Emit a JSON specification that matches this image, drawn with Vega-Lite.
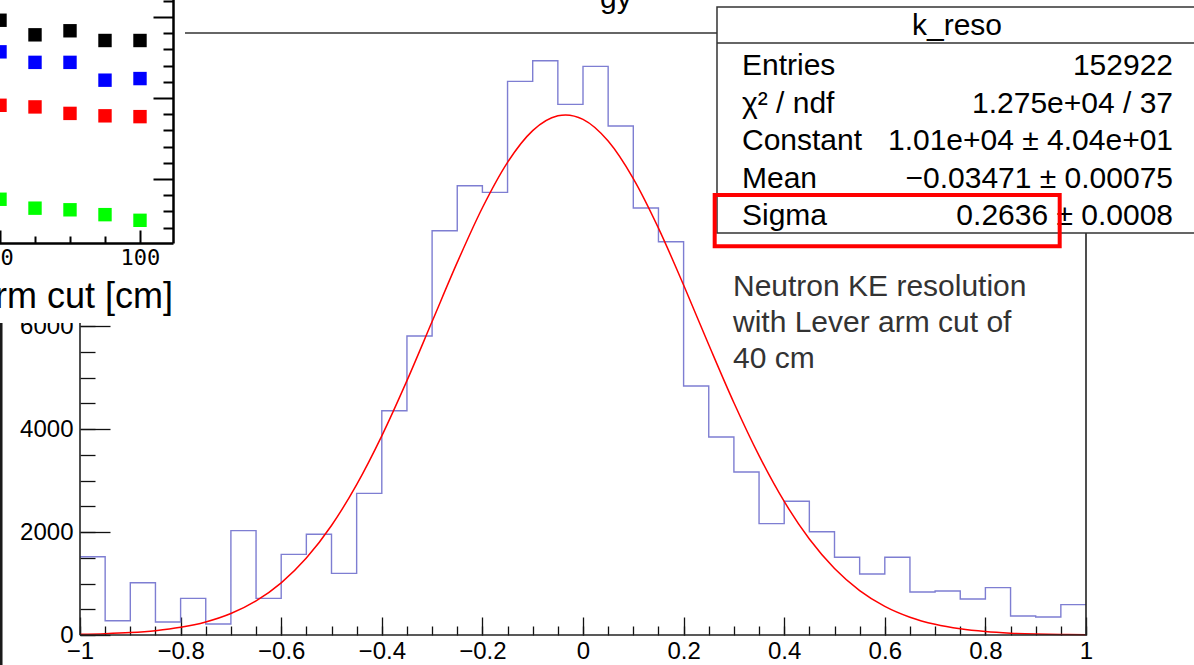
{
  "$schema": "https://vega.github.io/schema/vega-lite/v6.json",
  "width": 1006,
  "height": 602,
  "autosize": "none",
  "padding": {"left": 80, "top": 33, "right": 108, "bottom": 30},
  "background": "white",
  "config": {
    "view": {"stroke": null},
    "axis": {"grid": false, "title": null, "labelFlush": false, "labelOverlap": false, "tickColor": "#111111", "domainColor": "#111111", "labelColor": "#000000"}
  },
  "datasets": {
    "hist": [
      {"x": -1.0, "n": 1520}, {"x": -0.95, "n": 278}, {"x": -0.9, "n": 1016}, {"x": -0.85, "n": 252},
      {"x": -0.8, "n": 712}, {"x": -0.75, "n": 214}, {"x": -0.7, "n": 2026}, {"x": -0.65, "n": 712},
      {"x": -0.6, "n": 1566}, {"x": -0.55, "n": 1955}, {"x": -0.5, "n": 1197}, {"x": -0.45, "n": 2751},
      {"x": -0.4, "n": 4356}, {"x": -0.35, "n": 5806}, {"x": -0.3, "n": 7851}, {"x": -0.25, "n": 8725},
      {"x": -0.2, "n": 8596}, {"x": -0.15, "n": 10751}, {"x": -0.1, "n": 11152}, {"x": -0.05, "n": 10304},
      {"x": 0.0, "n": 11042}, {"x": 0.05, "n": 9883}, {"x": 0.1, "n": 8291}, {"x": 0.15, "n": 7637},
      {"x": 0.2, "n": 4835}, {"x": 0.25, "n": 3845}, {"x": 0.3, "n": 3165}, {"x": 0.35, "n": 2162},
      {"x": 0.4, "n": 2596}, {"x": 0.45, "n": 2006}, {"x": 0.5, "n": 1509}, {"x": 0.55, "n": 1185},
      {"x": 0.6, "n": 1509}, {"x": 0.65, "n": 835}, {"x": 0.7, "n": 855}, {"x": 0.75, "n": 699},
      {"x": 0.8, "n": 919}, {"x": 0.85, "n": 369}, {"x": 0.9, "n": 350}, {"x": 0.95, "n": 589},
      {"x": 1.0, "n": 589}
    ],
    "fit": [
      {"x": -1.0, "f": 12.4}, {"x": -0.95, "f": 24.3}, {"x": -0.9, "f": 46.2}, {"x": -0.85, "f": 84.6},
      {"x": -0.8, "f": 149.4}, {"x": -0.75, "f": 254.3}, {"x": -0.7, "f": 417.8}, {"x": -0.65, "f": 662.5},
      {"x": -0.6, "f": 1013}, {"x": -0.55, "f": 1494}, {"x": -0.5, "f": 2127}, {"x": -0.45, "f": 2920},
      {"x": -0.4, "f": 3867}, {"x": -0.35, "f": 4939}, {"x": -0.3, "f": 6087}, {"x": -0.25, "f": 7235},
      {"x": -0.2, "f": 8297}, {"x": -0.15, "f": 9179}, {"x": -0.1, "f": 9795}, {"x": -0.05, "f": 10083},
      {"x": -0.0347, "f": 10100},
      {"x": 0.0, "f": 10013}, {"x": 0.05, "f": 9592}, {"x": 0.1, "f": 8863}, {"x": 0.15, "f": 7901},
      {"x": 0.2, "f": 6795}, {"x": 0.25, "f": 5636}, {"x": 0.3, "f": 4510}, {"x": 0.35, "f": 3482},
      {"x": 0.4, "f": 2593}, {"x": 0.45, "f": 1863}, {"x": 0.5, "f": 1291}, {"x": 0.55, "f": 862.6},
      {"x": 0.6, "f": 556.2}, {"x": 0.65, "f": 346.0}, {"x": 0.7, "f": 207.7}, {"x": 0.75, "f": 120.2},
      {"x": 0.8, "f": 67.1}, {"x": 0.85, "f": 36.2}, {"x": 0.9, "f": 18.8}, {"x": 0.95, "f": 9.4},
      {"x": 1.0, "f": 4.6}
    ],
    "inset": [
      {"cut": 20, "series": "black", "v": 0.496}, {"cut": 40, "series": "black", "v": 0.478},
      {"cut": 60, "series": "black", "v": 0.483}, {"cut": 80, "series": "black", "v": 0.471},
      {"cut": 100, "series": "black", "v": 0.471},
      {"cut": 20, "series": "blue", "v": 0.457}, {"cut": 40, "series": "blue", "v": 0.444},
      {"cut": 60, "series": "blue", "v": 0.444}, {"cut": 80, "series": "blue", "v": 0.422},
      {"cut": 100, "series": "blue", "v": 0.424},
      {"cut": 20, "series": "red", "v": 0.391}, {"cut": 40, "series": "red", "v": 0.389},
      {"cut": 60, "series": "red", "v": 0.381}, {"cut": 80, "series": "red", "v": 0.378},
      {"cut": 100, "series": "red", "v": 0.377},
      {"cut": 20, "series": "green", "v": 0.275}, {"cut": 40, "series": "green", "v": 0.264},
      {"cut": 60, "series": "green", "v": 0.262}, {"cut": 80, "series": "green", "v": 0.256},
      {"cut": 100, "series": "green", "v": 0.249}
    ]
  },
  "layer": [
    {
      "layer": [
        {
          "data": {"name": "hist"},
          "mark": {"type": "line", "interpolate": "step-after", "color": "#7e7ed2", "strokeWidth": 1.4},
          "encoding": {
            "x": {"field": "x", "type": "quantitative", "scale": {"domain": [-1, 1], "nice": false, "zero": false},
                  "axis": {"orient": "bottom", "values": [-1, -0.8, -0.6, -0.4, -0.2, 0, 0.2, 0.4, 0.6, 0.8, 1], "format": "~g", "ticks": false, "domain": false, "labelFont": "Liberation Sans", "labelFontSize": 24, "labelPadding": 4}},
            "y": {"field": "n", "type": "quantitative", "scale": {"domain": [0, 11690], "nice": false, "zero": false},
                  "axis": {"orient": "left", "values": [0, 2000, 4000, 6000], "format": "d", "ticks": false, "domain": false, "labelFont": "Liberation Sans", "labelFontSize": 24, "labelPadding": 7}}
          }
        },
        {
          "data": {"name": "fit"},
          "mark": {"type": "line", "interpolate": "monotone", "color": "#ff0000", "strokeWidth": 1.5},
          "encoding": {
            "x": {"field": "x", "type": "quantitative", "scale": {"domain": [-1, 1], "nice": false, "zero": false},
                  "axis": {"orient": "bottom", "values": [-1, -0.8, -0.6, -0.4, -0.2, 0, 0.2, 0.4, 0.6, 0.8, 1], "labels": false, "domain": false, "tickSize": -18, "tickWidth": 1.3}},
            "y": {"field": "f", "type": "quantitative", "scale": {"domain": [0, 11690], "nice": false, "zero": false},
                  "axis": {"orient": "left", "values": [0, 2000, 4000, 6000], "labels": false, "domain": false, "tickSize": -30, "tickWidth": 1.3}}
          }
        },
        {
          "data": {"values": [{}]},
          "mark": {"type": "rule", "color": "#222222", "strokeWidth": 1.6},
          "encoding": {
            "x": {"datum": -1, "type": "quantitative", "scale": {"domain": [-1, 1], "nice": false, "zero": false},
                  "axis": {"orient": "bottom", "values": [-1, -0.95, -0.9, -0.85, -0.8, -0.75, -0.7, -0.65, -0.6, -0.55, -0.5, -0.45, -0.4, -0.35, -0.3, -0.25, -0.2, -0.15, -0.1, -0.05, 0, 0.05, 0.1, 0.15, 0.2, 0.25, 0.3, 0.35, 0.4, 0.45, 0.5, 0.55, 0.6, 0.65, 0.7, 0.75, 0.8, 0.85, 0.9, 0.95, 1], "labels": false, "domain": false, "tickSize": -9, "tickWidth": 1.3}},
            "x2": {"datum": 1},
            "y": {"datum": 0, "type": "quantitative", "scale": {"domain": [0, 11690], "nice": false, "zero": false},
                  "axis": {"orient": "left", "values": [0, 500, 1000, 1500, 2000, 2500, 3000, 3500, 4000, 4500, 5000, 5500, 6000], "labels": false, "domain": false, "tickSize": -15, "tickWidth": 1.3}}
          }
        },
        {
          "data": {"values": [{}]},
          "mark": {"type": "rule", "color": "#222222", "strokeWidth": 1.6},
          "encoding": {
            "x": {"datum": -1, "type": "quantitative", "scale": {"domain": [-1, 1], "nice": false, "zero": false}, "axis": null},
            "y": {"datum": 0, "type": "quantitative", "scale": {"domain": [0, 11690], "nice": false, "zero": false}, "axis": null},
            "y2": {"datum": 6059}
          }
        },
        {
          "data": {"values": [{}]},
          "mark": {"type": "rule", "color": "#222222", "strokeWidth": 1.6},
          "encoding": {
            "x": {"datum": 1, "type": "quantitative", "scale": {"domain": [-1, 1], "nice": false, "zero": false}, "axis": null},
            "y": {"datum": 0, "type": "quantitative", "scale": {"domain": [0, 11690], "nice": false, "zero": false}, "axis": null},
            "y2": {"datum": 7806}
          }
        },
        {
          "data": {"values": [{}]},
          "mark": {"type": "rule", "color": "#333333", "strokeWidth": 1.6},
          "encoding": {
            "x": {"datum": -0.7913, "type": "quantitative", "scale": {"domain": [-1, 1], "nice": false, "zero": false}, "axis": null},
            "x2": {"datum": 0.2664},
            "y": {"datum": 11690, "type": "quantitative", "scale": {"domain": [0, 11690], "nice": false, "zero": false}, "axis": null}
          }
        },
        {
          "data": {"values": [{}]},
          "mark": {"type": "rect", "fill": "white", "stroke": null},
          "encoding": {
            "x": {"datum": -1.16, "type": "quantitative", "scale": {"domain": [-1, 1], "nice": false, "zero": false}, "axis": null},
            "x2": {"datum": -1.004},
            "y": {"datum": 6059, "type": "quantitative", "scale": {"domain": [0, 11690], "nice": false, "zero": false}, "axis": null},
            "y2": {"datum": 6800}
          }
        },
        {
          "data": {"values": [{}]},
          "mark": {"type": "rect", "fill": "white", "stroke": "#333333", "strokeWidth": 1.5},
          "encoding": {
            "x": {"datum": 0.2664, "type": "quantitative", "scale": {"domain": [-1, 1], "nice": false, "zero": false}, "axis": null},
            "x2": {"datum": 1.3},
            "y": {"datum": 12195, "type": "quantitative", "scale": {"domain": [0, 11690], "nice": false, "zero": false}, "axis": null},
            "y2": {"datum": 7806}
          }
        },
        {
          "data": {"values": [{}]},
          "mark": {"type": "rule", "color": "#333333", "strokeWidth": 1.5},
          "encoding": {
            "x": {"datum": 0.2664, "type": "quantitative", "scale": {"domain": [-1, 1], "nice": false, "zero": false}, "axis": null},
            "x2": {"datum": 1.3},
            "y": {"datum": 11496, "type": "quantitative", "scale": {"domain": [0, 11690], "nice": false, "zero": false}, "axis": null}
          }
        },
        {
          "data": {"values": [{}]},
          "mark": {"type": "text", "text": "k_reso", "align": "center", "baseline": "alphabetic", "font": "Liberation Sans", "fontSize": 30, "color": "#000000"},
          "encoding": {
            "x": {"datum": 0.7435, "type": "quantitative", "scale": {"domain": [-1, 1], "nice": false, "zero": false}, "axis": null},
            "y": {"datum": 11651, "type": "quantitative", "scale": {"domain": [0, 11690], "nice": false, "zero": false}, "axis": null}
          }
        },
        {
          "data": {"values": [{}]},
          "mark": {"type": "text", "text": ["Entries", "χ² / ndf", "Constant", "Mean", "Sigma"], "align": "left", "baseline": "alphabetic", "font": "Liberation Sans", "fontSize": 30, "lineHeight": 37.6, "color": "#000000"},
          "encoding": {
            "x": {"datum": 0.3161, "type": "quantitative", "scale": {"domain": [-1, 1], "nice": false, "zero": false}, "axis": null},
            "y": {"datum": 10874, "type": "quantitative", "scale": {"domain": [0, 11690], "nice": false, "zero": false}, "axis": null}
          }
        },
        {
          "data": {"values": [{}]},
          "mark": {"type": "text", "text": ["152922", "1.275e+04 / 37", "1.01e+04 ± 4.04e+01", "−0.03471 ± 0.00075", "0.2636 ± 0.0008"], "align": "right", "baseline": "alphabetic", "font": "Liberation Sans", "fontSize": 30, "lineHeight": 37.6, "color": "#000000"},
          "encoding": {
            "x": {"datum": 1.173, "type": "quantitative", "scale": {"domain": [-1, 1], "nice": false, "zero": false}, "axis": null},
            "y": {"datum": 10874, "type": "quantitative", "scale": {"domain": [0, 11690], "nice": false, "zero": false}, "axis": null}
          }
        },
        {
          "data": {"values": [{}]},
          "mark": {"type": "rect", "filled": false, "stroke": "#ff0000", "strokeWidth": 4},
          "encoding": {
            "x": {"datum": 0.2618, "type": "quantitative", "scale": {"domain": [-1, 1], "nice": false, "zero": false}, "axis": null},
            "x2": {"datum": 0.9477},
            "y": {"datum": 8544, "type": "quantitative", "scale": {"domain": [0, 11690], "nice": false, "zero": false}, "axis": null},
            "y2": {"datum": 7548}
          }
        },
        {
          "data": {"values": [{}]},
          "mark": {"type": "text", "text": ["Neutron KE resolution", "with Lever arm cut of", "40 cm"], "align": "left", "baseline": "alphabetic", "font": "Liberation Sans", "fontSize": 30, "lineHeight": 36, "color": "#333333"},
          "encoding": {
            "x": {"datum": 0.2982, "type": "quantitative", "scale": {"domain": [-1, 1], "nice": false, "zero": false}, "axis": null},
            "y": {"datum": 6583, "type": "quantitative", "scale": {"domain": [0, 11690], "nice": false, "zero": false}, "axis": null}
          }
        },
        {
          "data": {"values": [{}]},
          "mark": {"type": "text", "text": "gy", "align": "left", "baseline": "alphabetic", "font": "Liberation Sans", "fontSize": 30, "color": "#000000"},
          "encoding": {
            "x": {"datum": 0.0338, "type": "quantitative", "scale": {"domain": [-1, 1], "nice": false, "zero": false}, "axis": null},
            "y": {"datum": 12175, "type": "quantitative", "scale": {"domain": [0, 11690], "nice": false, "zero": false}, "axis": null}
          }
        }
      ],
      "resolve": {"axis": {"x": "independent", "y": "independent"}}
    },
    {
      "layer": [
        {
          "data": {"name": "inset"},
          "mark": {"type": "point", "shape": "square", "filled": true, "size": 180, "opacity": 1},
          "encoding": {
            "x": {"field": "cut", "type": "quantitative", "scale": {"domain": [0, 118.86], "range": [-115, 93], "nice": false, "zero": false},
                  "axis": {"orient": "bottom", "offset": -392, "zindex": 1, "values": [20, 100], "labels": false, "domain": true, "domainWidth": 2.5, "domainColor": "#000000", "tickSize": -13, "tickWidth": 2, "tickColor": "#000000"}},
            "y": {"field": "v", "type": "quantitative", "scale": {"domain": [0.221, 0.55], "range": [210, -56.5], "nice": false, "zero": false},
                  "axis": {"orient": "left", "offset": -93, "zindex": 1, "values": [0.3, 0.4, 0.5], "labels": false, "domain": true, "domainWidth": 2.5, "domainColor": "#000000", "tickSize": 20, "tickWidth": 2, "tickColor": "#000000"}},
            "color": {"field": "series", "type": "nominal", "scale": {"domain": ["black", "blue", "red", "green"], "range": ["#000000", "#0000ff", "#ff0000", "#00ff00"]}, "legend": null}
          }
        },
        {
          "data": {"values": [{}]},
          "mark": {"type": "text", "text": "Lever arm cut [cm]", "align": "right", "baseline": "alphabetic", "font": "Liberation Sans", "fontSize": 36, "color": "#000000"},
          "encoding": {
            "x": {"datum": 118.86, "type": "quantitative", "scale": {"domain": [0, 118.86], "range": [-115, 93], "nice": false, "zero": false},
                  "axis": {"orient": "bottom", "offset": -392, "zindex": 1, "values": [20, 100], "ticks": false, "domain": false, "labelFont": "DejaVu Sans Mono", "labelFontSize": 22, "labelPadding": 4}},
            "y": {"datum": 0.1407, "type": "quantitative", "scale": {"domain": [0.221, 0.55], "range": [210, -56.5], "nice": false, "zero": false},
                  "axis": {"orient": "left", "offset": -93, "zindex": 1, "values": [0.24, 0.26, 0.28, 0.32, 0.34, 0.36, 0.38, 0.42, 0.44, 0.46, 0.48, 0.52], "labels": false, "domain": false, "tickSize": 10, "tickWidth": 2, "tickColor": "#000000"}}
          }
        },
        {
          "data": {"values": [{}]},
          "mark": {"type": "rule", "color": "#1a1a1a", "strokeWidth": 2.6},
          "encoding": {
            "x": {"datum": 20.7, "type": "quantitative", "scale": {"domain": [0, 118.86], "range": [-115, 93], "nice": false, "zero": false},
                  "axis": {"orient": "bottom", "offset": -392, "zindex": 1, "values": [40, 60, 80], "labels": false, "domain": false, "tickSize": -7, "tickWidth": 2, "tickColor": "#000000"}},
            "y": {"datum": 0.1222, "type": "quantitative", "scale": {"domain": [0.221, 0.55], "range": [210, -56.5], "nice": false, "zero": false}, "axis": null},
            "y2": {"datum": -0.35}
          }
        }
      ],
      "resolve": {"axis": {"x": "independent", "y": "independent"}}
    }
  ],
  "resolve": {"scale": {"x": "independent", "y": "independent"}, "axis": {"x": "independent", "y": "independent"}}
}
